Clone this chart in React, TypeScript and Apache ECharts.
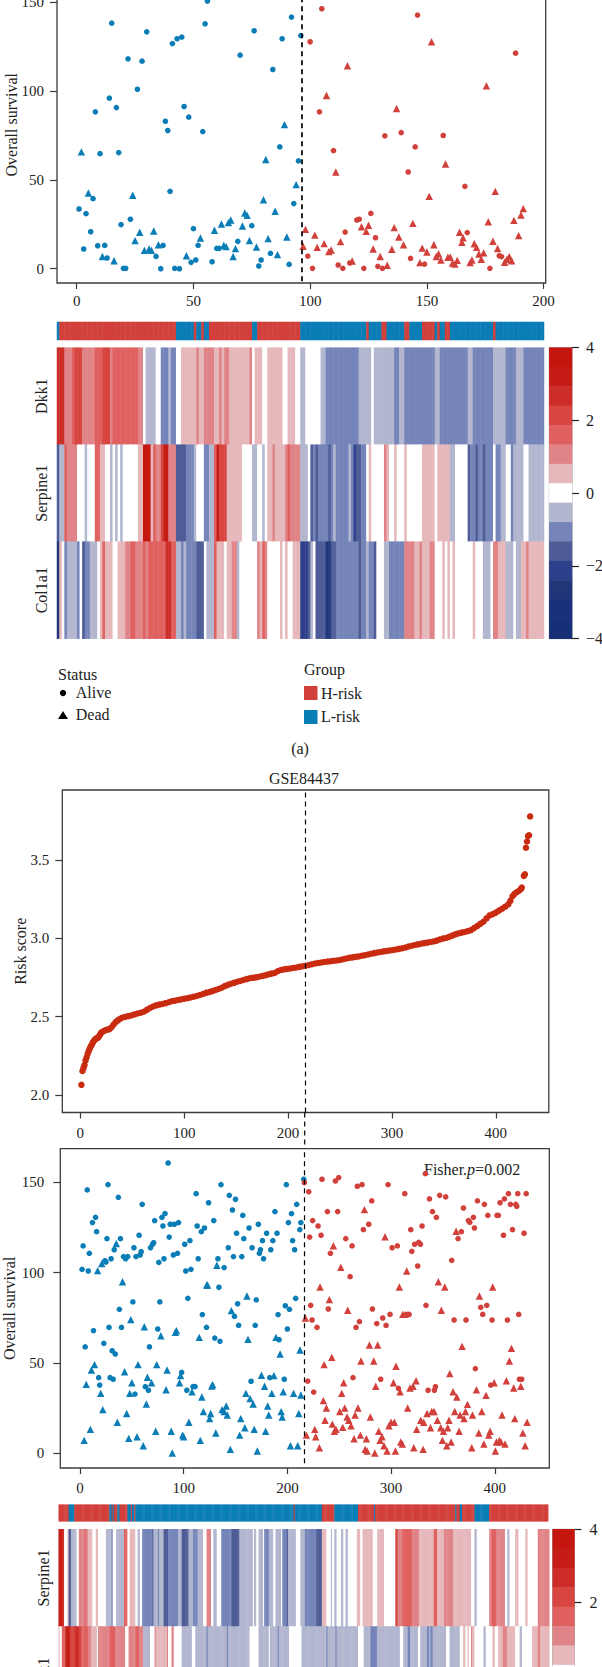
import React, { useEffect, useRef } from "react";
import * as echarts from "echarts";

const FONT = '"Liberation Serif", "Times New Roman", serif';
const INK = "#222222";
const FRAME = "#3c3c3c";
const BLUE = "#0b7db6";
const RED = "#d2403b";
const CURVE = "#c92b10";

const aLowAlive = [[1,33.6],[3,11.1],[4,31],[6,20.8],[7,39.4],[8,88.2],[9,12.9],[10,64.7],[12,13.1],[13,6],[14,95.9],[15,138.1],[17,90.6],[18,65.3],[19,24.8],[20,0.2],[21,0.2],[22,118],[23,27.8],[26,100.9],[28,116.7],[30,133.2],[34,6.9],[36,0],[37,13.1],[38,82.9],[39,77.7],[40,43.5],[41,126.6],[42,0.2],[43,129.3],[44,0],[45,130.2],[46,91.2],[48,85.2],[49,3.6],[50,22.5],[51,4.9],[52,13.1],[54,77.1],[55,137.7],[56,150.5],[58,3.9],[60,11.4],[61,11.4],[69,15.4],[70,120.1],[75,24.2],[76,133.8],[78,1.5],[79,4.9],[83,8.6],[84,112],[87,68.5],[88,129.3],[91,2.4],[92,141.5],[93,36.6],[95,60.6],[96,131.1]];
const aLowDead = [[2,65.7],[5,42.6],[11,6.9],[16,4.5],[24,41.3],[25,15.8],[27,20.5],[29,10.3],[31,11.1],[32,10.3],[33,21.2],[35,13.5],[47,7.3],[53,17.3],[59,21.6],[62,25.1],[63,13.1],[64,12.4],[65,25.9],[66,27.4],[67,6.8],[68,11.3],[71,24],[72,31.3],[73,30],[74,15.8],[77,12.2],[80,38.8],[81,61.4],[82,16.9],[85,32.3],[86,7.9],[89,81],[90,17.8],[94,47.3]];
const aHighAlive = [[100,127.6],[105,146.2],[99,7.1],[101,0.2],[104,88.2],[110,66.4],[112,2.1],[114,0.2],[115,20.6],[117,3.2],[121,27.8],[120,27.4],[123,0.2],[126,31.1],[128,17.4],[129,1.3],[131,0.2],[132,74.7],[139,76.5],[142,54.4],[143,5.8],[145,68.5],[146,142.6],[149,2.6],[157,74.9],[166.3,46.3],[167.3,20.3],[177,0.2],[181,7.3],[182,6.8],[188,121.2]];
const aHighDead = [[97,12.6],[98,22.1],[102,18.9],[103,12],[106,14.1],[107,97.4],[108,9.6],[109,10.5],[111,54.4],[113,15.2],[116,114.1],[118,4.3],[122,23.6],[124,21],[125,24.4],[127,11.1],[130,6.9],[133,1.9],[135,10.9],[136,23.1],[137,90.1],[138,17.8],[140,13.5],[144,25.5],[147,3.4],[148,11.6],[150,9.4],[151,40.7],[152,127.6],[153,13.5],[154,6.9],[155,8.4],[156,4.9],[158,58.9],[159,6.4],[160,6.6],[161,3.2],[162,2.6],[163,4.7],[164,20.5],[165,14.8],[165.5,17.4],[168.5,3.4],[169.3,4.9],[170.3,14],[171.3,12],[172.3,8.3],[173.3,5.3],[174.3,8.9],[175.5,102.8],[176.3,26.4],[178.3,15.4],[179.3,43.5],[180.3,11.4],[183.3,3.6],[184.3,5.3],[185.3,6.8],[186.3,4.5],[187.3,27.2],[189.3,18.6],[190.3,30.2],[191.3,33.8]];

const bLowAlive = [[2,101.8],[3,114.8],[5,58.9],[7,145.8],[8,100.9],[9,110.7],[12,127.7],[13,67.9],[15,130.6],[16,122.7],[18,41.9],[19,37.8],[23,60.9],[24,106.6],[25,105.9],[26,118.8],[27,148.7],[28,69.7],[29,41.9],[30,107.7],[31,56.8],[32,41],[33,112.7],[34,55],[37,141.7],[38,79.7],[39,118.8],[40,69.7],[42,108.9],[44,107.7],[46,108.9],[51,83.8],[52,113.8],[53,32.8],[54,108.9],[57,120.7],[58,109.8],[59,111.6],[60,137.8],[63,36.9],[66,34.9],[67,58.9],[68,113.8],[70,115.7],[71,116.6],[72,128.8],[75,68.8],[76,105.7],[77,83.8],[79,130.6],[80,125.8],[81,107.7],[82,132.7],[85,160.7],[86,119.7],[87,126.8],[90,109.8],[91,126.8],[94,110.7],[95,127.7],[98,44.8],[101,115.7],[102,100.9],[103,34.9],[104,85.8],[106,117.7],[107,101.8],[109,36.9],[111,36.9],[112,143.7],[113,125.8],[114,107.7],[117,122.7],[118,76.8],[120,124.7],[122,69.7],[124,138.7],[129,128.8],[130,63.8],[133,107.7],[134,91.9],[135,62],[136,148.7],[139,102.8],[143,113.8],[144,142.8],[147,134.7],[148,108.9],[149,75.8],[150,140.6],[151,121.8],[152,82.8],[153,70.8],[156,108.9],[157,131.7],[158,118.8],[163,124.7],[165,39.9],[166,113.8],[170,84.9],[169,70.8],[172,126.8],[173,110.7],[174,112.7],[176,117.7],[177,107.7],[180,121.8],[183,41.9],[184,112.7],[186,117.7],[188,133.8],[190,121.8],[191,76.8],[192,62.9],[197,41],[198,81.7],[199,148.7],[200,68.8],[201,127.7],[202,79.7],[204,132.7],[205,117.7],[207,112.7],[208,85.8],[209,137.8],[212,123.8],[213,127.7],[215.8,151.7]];
const bLowDead = [[4,7.2],[6,38.2],[10,13.3],[11,46.1],[14,49.1],[17,101.1],[20,33.2],[21,105],[22,24.2],[36,17.2],[35,116.1],[41,95],[43,45.2],[45,22.1],[47,8.3],[48,33.2],[49,74],[50,39.1],[55,9.2],[56,49.1],[61,4.2],[62,70.1],[64,27.3],[65,42.1],[69,39.1],[73,12.2],[74,49.1],[78,65.1],[83,35.2],[84,46.1],[88,12.2],[89,0.2],[92,67],[93,67.9],[96,39.1],[97,43],[99,10.1],[100,9.2],[105,17.2],[108,34.1],[115,64.2],[116,7.2],[117.5,31.2],[119,23.1],[122.2,93.2],[123,93.2],[125,19.2],[126,22.1],[127,37.3],[128,38],[131,11.3],[132,104.1],[137,24.2],[139,23.2],[141,26.2],[142,21.2],[145,2.2],[146,79],[154,10.1],[155,19.2],[159,14.2],[160,33.2],[161,87.1],[162,63.1],[164,30.3],[167,27.3],[168,13.3],[171,1.3],[175,43.2],[178,37.1],[179,12.2],[181,26.2],[182,21.2],[185,33.2],[187,43],[189,64.2],[193,55],[194,23.1],[195,20.1],[196,34.1],[203,4.2],[206,33.2],[210,4.2],[211,22.1],[212.2,57.2],[213,32.3]];
const bHighAlive = [[216.4,149.8],[220.6,144.8],[221.5,119.7],[224.4,128.8],[229.6,125.8],[232.5,120.7],[233.4,151.7],[238.6,133.8],[241.5,110.7],[246.3,150.7],[248.5,133.8],[249.5,152.6],[256.3,118.8],[260.5,97.8],[262.4,114.8],[267.5,147.8],[272,148.7],[273.3,123.8],[278.5,126.8],[281.4,139.7],[297.1,148.7],[301,113.8],[306.1,114.8],[313.2,143.7],[319,123.8],[320,111.8],[322.8,115.7],[325.7,103.7],[326.7,116.8],[328.3,115.7],[329.9,125.8],[333.1,154.8],[337,140.8],[339.9,133.8],[343.7,130.6],[346.9,142.8],[352.7,141.9],[358.5,106.8],[364.6,118.8],[367.8,122.7],[369.8,135.8],[374.6,128.8],[375.9,127.9],[379.4,130.6],[380.4,124.7],[383.3,139.7],[390,137.8],[393.3,131.7],[402.2,131.7],[403.5,131.7],[405.1,138.7],[408.4,120.7],[409.3,140.8],[413.2,143.7],[415.1,137.8],[417.1,123.8],[420.3,137.8],[421.2,136.7],[422.2,143.7],[428.3,121.8],[430.3,143.7],[222.5,81.9],[223.8,73.8],[228.6,69.7],[239.5,79.9],[266.2,69.7],[269.5,72.9],[282,79.9],[286.2,71.8],[292,74.9],[295.2,70.8],[299,76.9],[316,76.9],[317.4,76.9],[333.7,81.9],[360.8,73.8],[372.3,73.8],[386.5,80.8],[388.4,76.9],[392.3,81.9],[397.4,73.8],[412.2,73.8],[423.1,76.9],[219.6,40],[225.4,33.9],[263.3,41.9],[290,41],[307.1,36],[335.7,34.9],[341.8,34.9],[342.8,36.9],[381.3,46.9],[396.1,37.8],[423.8,41],[426,41]];
const bHighDead = [[274.3,134.9],[244.4,114.9],[294.2,119.9],[362.7,122.9],[251.5,103],[315.1,100.9],[345.6,95],[231.5,92.1],[308,92.1],[351.8,92.1],[398,92.1],[240.5,85.1],[385.2,87.1],[217.4,74.9],[258.2,79.2],[311.3,76.9],[313.5,76.9],[348.5,79.2],[279.1,60],[287.1,60],[368.5,59.2],[416.1,58.1],[242.8,53.1],[235.4,49.1],[271,51.1],[283.3,51.1],[304.8,48.2],[414.1,51.1],[356.6,44.1],[254.3,39.1],[302.3,39.1],[324.1,40.2],[285.2,37.1],[318.3,36.2],[321.2,37.1],[308.7,34.1],[252.4,33.2],[359.8,34.1],[363.4,31.2],[382.3,35.2],[391.6,32.1],[399.4,39.1],[411.2,40.2],[418.3,36.2],[425.1,37.1],[234.7,29.2],[237.6,25.1],[250.5,23.2],[255.3,25.1],[268.1,25.1],[257.6,20.1],[265.3,21.2],[259.2,18.3],[236.3,18.3],[280,20.1],[243.4,16.2],[253.4,14.4],[261.4,15.3],[246.9,13.3],[245.3,12.2],[226.4,13.3],[218.3,10.1],[227.3,9.2],[230.9,3.1],[264.3,8.1],[270.4,10.1],[276.2,8.1],[275,2.2],[276.9,1.3],[284.3,0.2],[288.1,12.2],[291.3,9.2],[289.4,7.2],[293.2,4.2],[296.1,1.3],[304.2,1.3],[309.3,6.3],[310.9,5.2],[321.9,3.1],[330.9,2.2],[298,15.3],[300,17.2],[303.2,17.2],[316,25.1],[324.7,13.3],[328.6,18.3],[331.5,17.2],[334.7,22.1],[338,14.2],[339.2,23.2],[341.5,23.2],[344.7,18.3],[347.9,14.2],[350.5,12.2],[354.6,14.2],[355.9,18.3],[349.5,7.2],[353.7,4.2],[357.9,6.3],[361.4,23.2],[365.6,12.2],[366.6,21.2],[370.4,19.2],[371.7,23.2],[373.7,27.1],[378.5,21.2],[377.8,3.1],[384.6,11.3],[387.5,23.2],[389.5,5.2],[394.2,10.1],[395.5,12.2],[400.6,1.3],[401.6,6.3],[404.5,7.2],[406,6.3],[409.9,5.2],[407,21.2],[419.3,19.2],[427.1,11.3],[429.3,4.2],[431.2,17.2]];

const riskScores = [[1,2.064],[2,2.152],[3,2.172],[4,2.19],[5,2.22],[6,2.24],[7,2.262],[8,2.28],[9,2.295],[10,2.31],[11,2.32],[12,2.335],[13,2.345],[14,2.353],[15,2.36],[16,2.362],[17,2.365],[18,2.375],[19,2.385],[20,2.398],[22,2.406],[24,2.413],[26,2.417],[28,2.42],[30,2.432],[32,2.45],[34,2.465],[36,2.476],[38,2.485],[40,2.493],[43,2.498],[46,2.503],[49,2.507],[52,2.514],[55,2.52],[58,2.525],[61,2.531],[64,2.543],[67,2.555],[70,2.565],[73,2.572],[76,2.577],[79,2.581],[82,2.586],[85,2.592],[88,2.598],[91,2.602],[94,2.606],[97,2.61],[100,2.614],[103,2.618],[106,2.622],[109,2.627],[112,2.632],[115,2.638],[118,2.645],[121,2.652],[124,2.657],[127,2.663],[130,2.67],[133,2.677],[136,2.685],[139,2.695],[142,2.703],[145,2.71],[148,2.716],[151,2.723],[154,2.728],[157,2.734],[160,2.74],[163,2.745],[166,2.748],[169,2.751],[172,2.755],[175,2.76],[178,2.764],[181,2.77],[184,2.775],[187,2.779],[190,2.79],[193,2.798],[196,2.802],[199,2.805],[202,2.808],[205,2.811],[208,2.814],[211,2.818],[214,2.822],[217,2.825],[220,2.83],[223,2.835],[226,2.84],[229,2.843],[232,2.846],[235,2.849],[238,2.852],[241,2.854],[244,2.857],[247,2.859],[250,2.862],[253,2.867],[256,2.872],[259,2.876],[262,2.879],[265,2.882],[268,2.885],[271,2.889],[274,2.893],[277,2.897],[280,2.902],[283,2.906],[286,2.91],[289,2.913],[292,2.917],[295,2.92],[298,2.923],[301,2.926],[304,2.929],[307,2.933],[310,2.937],[313,2.942],[316,2.948],[319,2.953],[322,2.958],[325,2.962],[328,2.966],[331,2.97],[334,2.973],[337,2.977],[340,2.98],[343,2.986],[346,2.993],[349,2.999],[352,3.003],[355,3.01],[358,3.018],[361,3.026],[364,3.032],[367,3.037],[370,3.041],[373,3.047],[376,3.053],[379,3.066],[382,3.079],[385,3.093],[388,3.107],[391,3.128],[394,3.147],[397,3.155],[400,3.165],[403,3.178],[406,3.19],[409,3.203],[412,3.218],[414,3.24],[416,3.27],[418,3.285],[420,3.295],[422,3.303],[424,3.315],[425,3.325],[427,3.4],[428,3.41],[429,3.58],[430,3.62],[431,3.655],[432,3.66],[433,3.78]];

const groupRunsA = [[0,1],[1,46],[0,7],[1,1],[0,2],[1,1],[0,2],[1,17],[0,2],[1,17],[0,26],[1,1],[0,5],[1,2],[0,7],[1,2],[0,5],[1,5],[0,1],[1,1],[0,2],[1,2],[0,17],[1,1],[0,19]];
const dkk1RunsA = [[5,3],[2,3],[3,1],[4,3],[2,3],[2,2],[3,3],[4,3],[2,1],[3,3],[3,7],[2,2],[0,1],[-1,4],[0,2],[-2,3],[-1,1],[-2,2],[0,2],[1,6],[2,1],[1,2],[2,4],[1,2],[2,1],[1,1],[2,2],[1,5],[1,3],[2,1],[0,1],[1,3],[0,2],[1,6],[0,2],[1,3],[0,2],
  [-1,2],[0,6],[-1,2],[-2,13],[-1,5],[0,1],[-1,8],[-2,2],[-1,2],[-2,12],[-1,2],[-2,11],[-1,2],[-2,8],[-1,5],[-2,4],[-1,3],[-2,8]];
const serpine1RunsA = [[-3,1],[-1,2],[3,1],[2,4],[0,3],[-1,1],[0,3],[3,2],[1,2],[0,2],[-1,1],[0,1],[-1,1],[0,1],[-1,1],[0,6],[1,2],[7,3],[1,1],[3,1],[2,2],[4,1],[6,2],[2,3],[-3,4],[-2,3],[-1,1],[0,3],[-2,2],[-1,2],[3,1],[6,1],[4,3],[1,6],[0,4],[-1,2],[0,2],[-1,1],[0,1],[1,2],[2,1],[1,2],[1,2],[2,1],[3,1],[2,4],
  [-1,3],[0,1],[-3,1],[-2,1],[-3,1],[-2,4],[-3,1],[-2,1],[-1,1],[-2,5],[-1,1],[-2,1],[-4,1],[-3,2],[-2,2],[0,1],[1,1],[0,5],[2,1],[1,1],[0,2],[1,1],[0,3],[1,1],[0,6],[1,5],[0,1],[1,5],[-1,2],[0,5],[-3,1],[-2,2],[-3,1],[-2,2],[-3,1],[-2,3],[0,1],[-2,2],[-1,2],[0,2],[-2,1],[-1,4],[0,2],[-1,6]];
const col1a1RunsA = [[-5,1],[1,1],[0,1],[-2,1],[-1,4],[-2,1],[0,1],[-3,1],[-2,2],[-1,3],[0,1],[1,1],[3,1],[1,3],[0,2],[1,3],[2,2],[3,2],[2,3],[3,1],[2,1],[3,5],[3,2],[5,2],[3,2],[-1,2],[-2,1],[-1,1],[-2,4],[-3,3],[0,1],[-1,3],[3,1],[1,3],[0,1],[1,2],[2,2],[-1,1],[0,7],[2,1],[1,1],[3,1],[2,1],[0,5],[1,1],[0,1],[1,1],[0,2],[1,3],
  [-4,3],[-3,1],[-1,1],[0,1],[-3,2],[-3,2],[-5,2],[-3,2],[-2,6],[-2,3],[-3,1],[-2,2],[-1,1],[-2,2],[-3,1],[0,3],[-1,2],[-2,6],[2,4],[1,2],[2,1],[1,3],[2,2],[0,3],[1,1],[0,1],[1,1],[0,1],[1,1],[0,7],[1,1],[0,3],[-1,3],[0,1],[2,2],[1,3],[-1,3],[0,1],[-1,2],[1,2],[2,1],[1,6]];

const groupRunsB = [[1,9],[0,5],[1,31],[0,2],[1,1],[0,1],[1,3],[0,2],[1,1],[1,6],[0,3],[1,1],[0,2],[1,1],[0,140],[1,1],[0,24],[1,11],[0,21],[1,14],[0,1],[1,71],[0,1],[1,3],[0,2],[1,11],[0,13],[1,52]];
const serpine1RunsB = [[6,3],[5,2],[0,3],[1,1],[-3,2],[-1,5],[0,2],[2,5],[3,1],[2,2],[1,4],[0,3],[1,2],[0,7],[-1,5],[-2,1],[0,3],[-1,7],[3,3],[0,2],[1,5],[0,2],[-1,2],[0,2],[-2,9],[-3,1],[-1,4],[-2,1],[-1,4],[-3,4],[-2,9],[-1,3],[-3,6],[-1,4],[-2,4],[-1,5],[0,3],[2,4],[0,2],[-1,3],[0,4],[-2,6],[-2,3],[-3,7],[-1,12],[0,1],[-1,2],[0,2],[-1,4],[0,1],[-2,4],[-1,4],[0,2],[-1,5],[0,1],[-2,4],[-3,1],[-1,7],[0,4],[-1,4],
  [-2,10],[-3,5],[1,4],[0,4],[-1,1],[0,2],[-1,2],[0,4],[-1,2],[0,2],[-1,2],[0,8],[1,3],[0,2],[1,9],[0,4],[1,6],[0,10],[4,2],[2,4],[3,9],[2,6],[1,13],[3,3],[1,6],[2,3],[2,5],[1,16],[0,3],[-1,2],[0,11],[2,2],[3,4],[2,8],[0,2],[-1,2],[0,5],[1,3],[0,6],[1,2],[0,9],[2,10]];
const dkk1RunsB = [[1,1],[0,2],[3,3],[6,4],[4,4],[5,4],[4,2],[3,6],[2,3],[1,5],[0,1],[2,10],[3,5],[2,9],[0,3],[2,6],[3,3],[2,4],[-1,6],[0,4],[2,1],[1,10],[2,1],[0,3],[2,2],[0,7],[-1,9],[0,3],[-1,10],[-2,1],[-1,17],[-2,1],[-1,19],[0,8],[-1,9],[0,1],[-1,7],[-2,1],[-1,9],[0,11],[-1,3],
  [-1,19],[-2,1],[-1,7],[-2,1],[-1,19],[0,5],[-1,6],[-2,6],[-1,20],[0,3],[-1,4],[-2,2],[-1,7],[0,2],[-1,6],[-2,2],[-1,1],[-2,2],[-1,12],[0,3],[-1,9],[0,3],[1,2],[0,2],[1,1],[0,2],[2,1],[1,2],[0,8],[-1,2],[0,6],[1,2],[0,3],[1,4],[2,4],[1,7],[0,4],[-1,2],[0,9],[1,5],[2,2],[1,8]];

const colorbarLevels = [7, 6, 5, 4, 3, 2, 1, 0, -1, -2, -3, -4, -5, -6, -7];
const rampColors = ["#c4150f", "#c61c16", "#cd2d28", "#d74640", "#e06060", "#e08488", "#e6b8bb", "#ffffff", "#b2b6cf", "#7584b9", "#4e5d97", "#2e408c", "#213579", "#1b307a", "#163078"];
const rowsA = ["Dkk1", "Serpine1", "Col1a1"];
const rowsB = ["Serpine1", "Dkk1"];
const ticksA = [0, 50, 100, 150, 200];
const ticksB = [0, 100, 200, 300, 400];
const survivalTicks = [0, 50, 100, 150];
const riskTicks = [2, 2.5, 3, 3.5];
const cutA = 96.5;
const cutB = 216.5;

const expand = (runs: number[][]) => runs.flatMap(([v, n]) => Array(n).fill(v));
const cells = (rows: number[][][]) => rows.flatMap((runs, r) => expand(runs).map((v, c) => [c, r, v]));
const seq = (n: number) => Array.from({ length: n }, (_, i) => i);

function buildOption() {
  const tickLabel = { fontFamily: FONT, fontSize: 15, color: INK };
  const frame = { show: true, borderColor: FRAME, borderWidth: 1.3, backgroundColor: "#fff" };
  const grids = [
    { left: 57, top: -33.6, width: 488.7, height: 316.6, ...frame },
    { left: 57, top: 322, width: 487, height: 18 },
    { left: 57, top: 347.7, width: 487, height: 291 },
    { left: 549.3, top: 347.7, width: 22.7, height: 291, show: true, borderColor: "#999", borderWidth: 1 },
    { left: 62.3, top: 790, width: 486.5, height: 322.5, ...frame },
    { left: 60.3, top: 1148.7, width: 489, height: 319.3, ...frame },
    { left: 58.7, top: 1504.7, width: 490.6, height: 16.6 },
    { left: 58.7, top: 1529.3, width: 490.6, height: 194.6 },
    { left: 552.7, top: 1529.3, width: 21.7, height: 291, show: true, borderColor: "#999", borderWidth: 1 },
  ].map((g) => ({ ...g, outerBoundsMode: "none", containLabel: false }));
  const noLine = { show: false, onZero: false };
  const valueX = (gridIndex: number, min: number, max: number, ticks: number[], margin: number) => ({
    type: "value", gridIndex, position: "bottom", min, max, splitLine: { show: false }, axisLine: noLine,
    axisTick: { show: true, length: 6, lineStyle: { color: FRAME, width: 1.2 }, customValues: ticks },
    axisLabel: { ...tickLabel, margin, customValues: ticks },
  });
  const valueY = (gridIndex: number, min: number, max: number, ticks: number[], name: string, nameGap: number, margin: number, fmt?: (v: number) => string) => ({
    type: "value", gridIndex, position: "left", min, max, splitLine: { show: false }, axisLine: noLine,
    name, nameLocation: "middle", nameRotate: 90, nameGap, nameMoveOverlap: false,
    nameTextStyle: { fontFamily: FONT, fontSize: 16, color: INK },
    axisTick: { show: true, length: 7, lineStyle: { color: FRAME, width: 1.2 }, customValues: ticks },
    axisLabel: { ...tickLabel, margin, customValues: ticks, formatter: fmt },
  });
  const hiddenX = (gridIndex: number, n: number) => ({ type: "category", gridIndex, data: seq(n), show: false });
  const hiddenY = (gridIndex: number, data: any[]) => ({ type: "category", gridIndex, data, inverse: true, show: false });
  const rowY = (gridIndex: number, data: string[], margin: number) => ({
    type: "category", gridIndex, data, inverse: true, axisLine: noLine, axisTick: { show: false }, splitLine: { show: false },
    axisLabel: { fontFamily: FONT, fontSize: 16, color: INK, rotate: 90, margin, align: "center", verticalAlign: "bottom" },
  });
  const barY = (gridIndex: number, margin: number) => ({
    type: "value", gridIndex, position: "right", min: -4, max: 4, interval: 2, splitLine: { show: false }, axisLine: noLine,
    axisTick: { show: true, length: 7, lineStyle: { color: "#222", width: 1.2 } },
    axisLabel: { ...tickLabel, fontSize: 16, margin, formatter: (v: number) => String(v).replace("-", "\u2212") },
  });

  const xAxis = [
    valueX(0, -8.44, 200.9, ticksA, 10),
    hiddenX(1, 192), hiddenX(2, 192), hiddenX(3, 1),
    valueX(4, -17.4, 451, ticksB, 13),
    valueX(5, -19, 452.6, ticksB, 12),
    hiddenX(6, 434), hiddenX(7, 434), hiddenX(8, 1),
  ];
  const yAxis: any[] = [
    valueY(0, -8.04, 170, survivalTicks, "Overall survival", 38, 13),
    hiddenY(1, ["Group"]),
    rowY(2, rowsA, 8),
    hiddenY(3, colorbarLevels),
    valueY(4, 1.887, 3.949, riskTicks, "Risk score", 34, 13, (v: number) => v.toFixed(1)),
    valueY(5, -8.1, 168.6, survivalTicks, "Overall survival", 43, 16),
    hiddenY(6, ["Group"]),
    rowY(7, rowsB, 7),
    hiddenY(8, colorbarLevels),
    barY(3, 14),
    barY(8, 15),
  ];

  const dash = (x: number, width: number, y0?: number, y1?: number) => ({
    silent: true, symbol: "none", animation: false, label: { show: false },
    lineStyle: { color: "#000", type: [5, 4], width },
    data: y0 === undefined ? [{ xAxis: x }] : [[{ coord: [x, y0] }, { coord: [x, y1] }]],
  });
  const scatter = (idx: number, data: number[][], symbol: string, color: string, extra: any = {}) => ({
    type: "scatter", xAxisIndex: idx, yAxisIndex: idx, data, symbol, symbolSize: symbol === "circle" ? 5.6 : 7.4,
    itemStyle: { color, opacity: 1 }, silent: true, ...extra,
  });
  const heat = (idx: number, data: number[][]) => ({
    type: "heatmap", xAxisIndex: idx, yAxisIndex: idx, data, silent: true, progressive: 0,
  });

  const series: any[] = [
    scatter(0, aLowAlive, "circle", BLUE),
    scatter(0, aLowDead, "triangle", BLUE),
    scatter(0, aHighAlive, "circle", RED),
    scatter(0, aHighDead, "triangle", RED),
    scatter(4, riskScores, "circle", CURVE, { symbolSize: 6.5, markLine: dash(cutB, 1.2) }),
    scatter(5, bLowAlive, "circle", BLUE),
    scatter(5, bLowDead, "triangle", BLUE),
    scatter(5, bHighAlive, "circle", RED),
    scatter(5, bHighDead, "triangle", RED),
  ];
  series[0].markLine = dash(cutA, 1.7, -7, 170);
  series[5].markLine = dash(cutB, 1.2, -5.5, 168.6);
  const levelSeries: number[] = [];
  const groupSeries: number[] = [];
  const addHeat = (idx: number, data: number[][], list: number[]) => { list.push(series.length); series.push(heat(idx, data)); };
  addHeat(1, cells([groupRunsA]), groupSeries);
  addHeat(2, cells([dkk1RunsA, serpine1RunsA, col1a1RunsA]), levelSeries);
  addHeat(3, colorbarLevels.map((v, r) => [0, r, v]), levelSeries);
  addHeat(6, cells([groupRunsB]), groupSeries);
  addHeat(7, cells([serpine1RunsB, dkk1RunsB]), levelSeries);
  addHeat(8, colorbarLevels.map((v, r) => [0, r, v]), levelSeries);

  const text = (x: number, y: number, t: string, extra: any = {}) => ({
    type: "text", x, y, silent: true,
    style: { text: t, fontFamily: FONT, fontSize: 16, fill: INK, verticalAlign: "middle", ...extra },
  });
  const graphic = [
    text(58, 674, "Status"),
    { type: "circle", shape: { cx: 63, cy: 693, r: 3.2 }, style: { fill: "#000" }, silent: true },
    text(75.8, 692, "Alive"),
    { type: "polygon", shape: { points: [[63, 711], [58, 719], [68, 719]] }, style: { fill: "#000" }, silent: true },
    text(75.8, 714, "Dead"),
    text(304, 669, "Group"),
    { type: "rect", shape: { x: 304, y: 686, width: 13.5, height: 14 }, style: { fill: RED }, silent: true },
    text(321, 693, "H-risk"),
    { type: "rect", shape: { x: 304, y: 710, width: 13.5, height: 14 }, style: { fill: BLUE }, silent: true },
    text(321, 716, "L-risk"),
    text(300, 748, "(a)", { align: "center" }),
    text(304, 778, "GSE84437", { align: "center" }),
    { type: "line", shape: { x1: 304.7, y1: 1112.5, x2: 304.7, y2: 1148.7 }, style: { stroke: "#000", lineWidth: 1.2, lineDash: [5, 4] }, silent: true },
    {
      type: "text", x: 424, y: 1169, silent: true,
      style: {
        text: "{a|Fisher.}{b|p}{a|=0.002}", verticalAlign: "middle", fontFamily: FONT, fontSize: 16, fill: INK,
        rich: {
          a: { fontFamily: FONT, fontSize: 16, fill: INK },
          b: { fontFamily: FONT, fontSize: 16, fontStyle: "italic", fill: INK },
        },
      },
    },
  ];

  return {
    animation: false,
    backgroundColor: "#fff",
    grid: grids,
    xAxis,
    yAxis,
    series,
    graphic,
    visualMap: [
      {
        show: false, type: "piecewise", dimension: 2, seriesIndex: levelSeries,
        pieces: colorbarLevels.map((value, i) => ({ value, color: rampColors[i] })),
      },
      {
        show: false, type: "piecewise", dimension: 2, seriesIndex: groupSeries,
        pieces: [{ value: 1, color: RED }, { value: 0, color: BLUE }],
      },
    ],
  };
}

export default function App() {
  const ref = useRef<HTMLDivElement>(null);
  useEffect(() => {
    const chart = echarts.init(ref.current!, undefined, { renderer: "svg" });
    chart.setOption(buildOption() as any);
    return () => chart.dispose();
  }, []);
  return <div ref={ref} style={{ position: "absolute", left: 0, top: 0, width: 602, height: 1667, overflow: "hidden" }} />;
}
